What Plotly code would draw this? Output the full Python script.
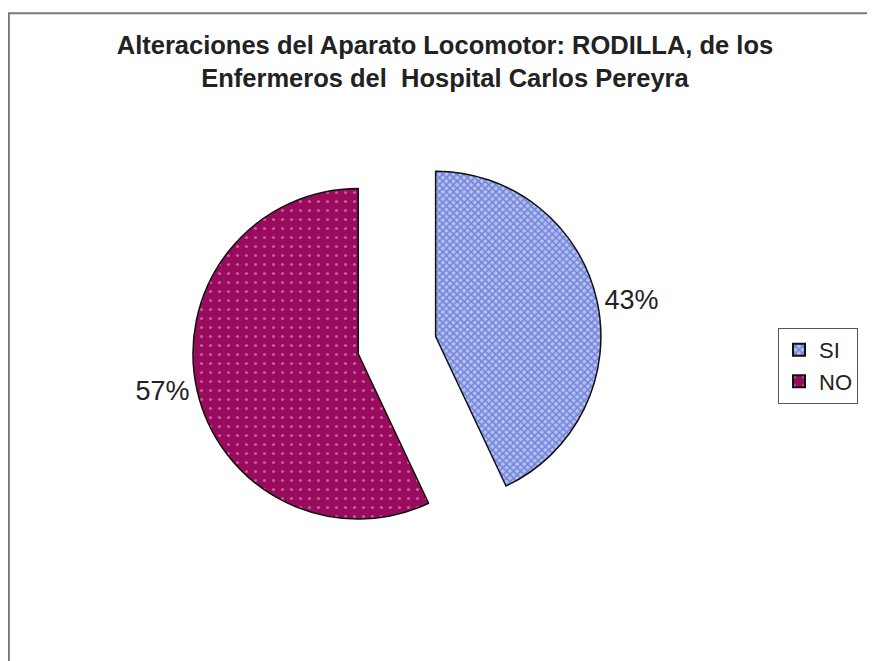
import plotly.graph_objects as go

# Datos del gráfico
categorias = ["SI", "NO"]
porcentajes = [43, 57]
titulo = "Alteraciones del Aparato Locomotor: RODILLA, de los<br>Enfermeros del  Hospital Carlos Pereyra"

fuente = "Liberation Sans, Arial"

fig = go.Figure(
    go.Pie(
        labels=categorias,
        values=porcentajes,
        sort=False,
        direction="clockwise",
        rotation=0,
        pull=[0.24, 0.24],
        textinfo="percent",
        textposition="outside",
        texttemplate="%{percent:.0%}",
        textfont=dict(family=fuente, size=27, color="#222222"),
        marker=dict(
            colors=["#b3c0f1", "#990b5c"],
            line=dict(color="#111111", width=1.5),
            pattern=dict(
                shape=["x", "."],
                fgcolor=["#2f47c0", "#f2a8d8"],
                size=[5, 9],
                solidity=[0.5, 0.1],
                fillmode="overlay",
            ),
        ),
        domain=dict(x=[0.21, 0.679], y=[0.18, 0.80]),
        hoverinfo="label+percent",
    )
)

fig.update_layout(
    width=875,
    height=661,
    margin=dict(l=0, r=0, t=0, b=0),
    paper_bgcolor="white",
    plot_bgcolor="white",
    title=dict(
        text=titulo,
        x=0.4994,
        xanchor="center",
        y=0.930,
        yanchor="middle",
        font=dict(family=fuente, size=25.5, color="#222222", weight="bold"),
    ),
    showlegend=True,
    legend=dict(
        x=0.88,
        y=0.516,
        xanchor="left",
        yanchor="top",
        bordercolor="#555555",
        borderwidth=1,
        bgcolor="white",
        font=dict(family=fuente, size=22, color="#222222"),
        itemsizing="constant",
        tracegroupgap=0,
    ),
    shapes=[
        # marco del gráfico (solo se ven los bordes superior e izquierdo)
        dict(type="line", xref="paper", yref="paper", x0=0.0, x1=1.0, y0=0.992, y1=0.992,
             line=dict(color="#777777", width=2)),
        dict(type="line", xref="paper", yref="paper", x0=0.001, x1=0.001, y0=0.0, y1=0.992,
             line=dict(color="#777777", width=2)),
    ],
)

fig.write_html("out.html")
